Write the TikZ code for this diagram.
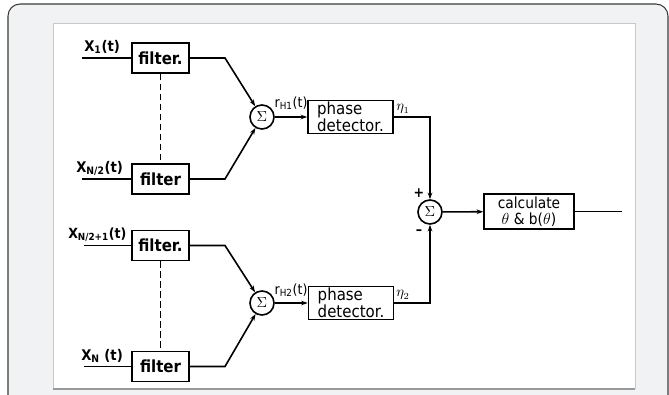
\documentclass[tikz,border=0pt]{standalone}
\usepackage{fontspec}
\setmainfont{DejaVu Sans Condensed}
\usetikzlibrary{arrows.meta}
\definecolor{framebg}{HTML}{F1F2F4}
\definecolor{frameline}{HTML}{3A3A3A}
\definecolor{panelline}{HTML}{C8C8C8}

\begin{document}
\begin{tikzpicture}[x=0.75pt,y=-0.75pt,
  blk/.style={draw, line width=1.2pt, inner sep=0pt, align=center,
    font=\fontsize{11.5}{9.8}\selectfont},
  filterbox/.style={blk, minimum width=42.75pt, minimum height=22.5pt,
    font=\fontsize{12.5}{12.5}\selectfont\bfseries},
  phasebox/.style={blk, minimum width=63.75pt, minimum height=24.75pt,
    align=left, font=\fontsize{12.5}{10}\selectfont},
  calcbox/.style={blk, minimum width=67.5pt, minimum height=26.25pt,
    font=\fontsize{11.5}{11.8}\selectfont},
  sumc/.style={draw, circle, line width=1.2pt, minimum size=18pt, inner sep=0pt,
    font=\fontsize{11}{11}\selectfont\bfseries},
  wire/.style={line width=1.2pt},
  arr/.style={wire, -{Stealth[length=5pt,width=3.5pt]}},
  link/.style={line width=0.8pt, dash pattern=on 5pt off 2.5pt},
  inlbl/.style={font=\fontsize{11}{11}\selectfont\bfseries, inner sep=0pt, anchor=south west},
  sig/.style={font=\fontsize{10.5}{10.5}\selectfont, inner sep=0pt}]

\useasboundingbox (0,0) rectangle (669,394);

% card frame and white panel
\draw[frameline, line width=0.8pt, fill=framebg, rounded corners=9pt]
  (8,410) -- (8,4) -- (668,4) -- (668,410);
\fill[white] (53,23) rectangle (635,389);
\draw[panelline, line width=0.5pt] (53,389) -- (53,23) -- (635,23) -- (635,389);
\draw[gray!80, line width=0.8pt] (53,389) -- (635,389);

% filter bank
\node[filterbox] (f1) at (160.5,58) {filter.};
\node[filterbox] (f2) at (160.5,179) {filter};
\node[filterbox] (f3) at (160.5,245.5) {filter.};
\node[filterbox] (f4) at (160.5,366.5) {filter};

\draw[link] (f1) -- (f2);
\draw[link] (f3) -- (f4);

% inputs
\coordinate (i1) at (82,58);
\coordinate (i2) at (82,179);
\coordinate (i3) at (84,245.5);
\coordinate (i4) at (84,366.5);
\draw[wire] (i1) -- (f1);
\draw[wire] (i2) -- (f2);
\draw[wire] (i3) -- (f3);
\draw[wire] (i4) -- (f4);
\node[inlbl] (l1) at (84,54) {X\textsubscript{1}(t)};
\node[inlbl] (l2) at (76,176) {X\textsubscript{N/2}(t)};
\node[inlbl, font=\fontsize{10.5}{10.5}\selectfont\bfseries] (l3) at (68,242) {X\textsubscript{N/2+1}(t)};
\node[inlbl] (l4) at (81,363) {X\textsubscript{N} (t)};

% summing junctions
\node[sumc] (s1) at (262,117) {$\Sigma$};
\node[sumc] (s2) at (262,303) {$\Sigma$};
\node[sumc] (s3) at (430,212) {$\Sigma$};

\coordinate (b1) at (225,58);
\coordinate (b2) at (225,179);
\coordinate (b3) at (225,245.5);
\coordinate (b4) at (225,366.5);
\draw[arr] (f1.east) -- (b1) -- (s1);
\draw[arr] (f2.east) -- (b2) -- (s1);
\draw[arr] (f3.east) -- (b3) -- (s2);
\draw[arr] (f4.east) -- (b4) -- (s2);

% phase detectors
\node[phasebox] (p1) at (350.5,117) {phase\\detector.};
\node[phasebox] (p2) at (351,303) {phase\\detector.};
\draw[arr] (s1) -- (p1);
\draw[arr] (s2) -- (p2);
\node[sig, anchor=south] (r1) at (291,110) {r\textsubscript{H1}(t)};
\node[sig, anchor=south] (r2) at (291,297) {r\textsubscript{H2}(t)};

% detector outputs into the final junction
\coordinate (k1) at (430,117);
\coordinate (k2) at (430,303);
\draw[arr] (p1.east) -- (k1) -- (s3);
\draw[arr] (p2.east) -- (k2) -- (s3);
\node[sig, anchor=south west] (e1) at (396,114) {$\eta_1$};
\node[sig, anchor=south west] (e2) at (396,300) {$\eta_2$};
\node[sig] (pl) at (419,193) {\bfseries +};
\node[sig] (mi) at (419,232) {\bfseries –};

% estimator
\node[calcbox] (c) at (529,211.5) {calculate\\$\theta$ \& b($\theta$)};
\draw[arr] (s3) -- (c);
\coordinate (out) at (622,211.5);
\draw[wire] (c) -- (out);
\end{tikzpicture}
\end{document}
